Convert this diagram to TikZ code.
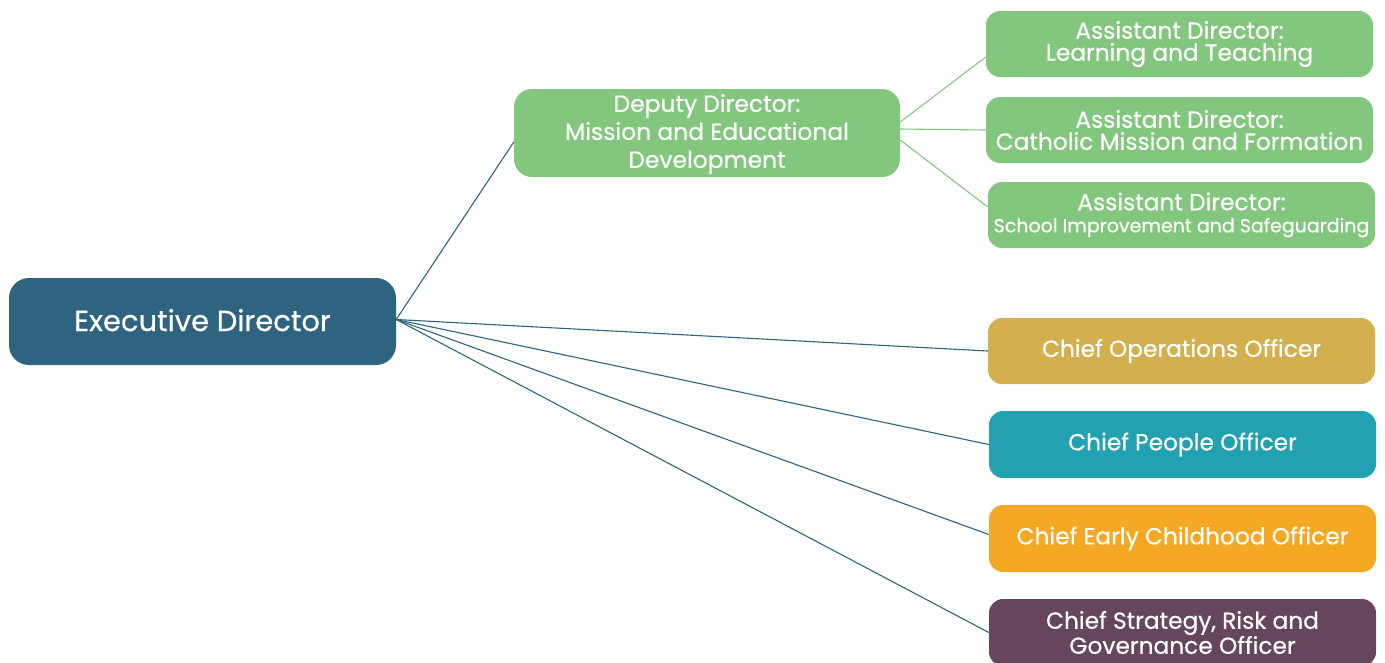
\documentclass[tikz,border=0pt]{standalone}
\usepackage{fontspec}
\setmainfont{Poppins}[BoldFont=Poppins, BoldFeatures={FakeBold=0.5}]
\definecolor{execblue}{HTML}{2E6480}
\definecolor{leafgreen}{HTML}{83C77E}
\definecolor{opsgold}{HTML}{D4AF4E}
\definecolor{peopleteal}{HTML}{22A1B0}
\definecolor{earlyorange}{HTML}{F5A823}
\definecolor{strategyplum}{HTML}{66465C}
\tikzset{
  box/.style={rounded corners=14pt, text=white, align=center, inner sep=0pt,
    minimum width=387pt, minimum height=66pt, font=\fontsize{23.3}{22}\selectfont\bfseries},
  execline/.style={draw=execblue, line width=1.1pt},
  greenline/.style={draw=leafgreen, line width=1.1pt},
}
\begin{document}
\begin{tikzpicture}[x=1pt,y=-1pt]
\useasboundingbox (0,0) rectangle (1385,662);
% top of the chart
\node[box, fill=execblue, minimum height=87pt, rounded corners=20pt,
      font=\fontsize{29}{29}\selectfont\bfseries] (exec) at (202.5,321.5)
  {\raisebox{3pt}{Executive Director}};
% deputy and assistant directors
\node[box, fill=leafgreen, minimum width=386pt, minimum height=88pt, rounded corners=18pt,
      font=\fontsize{23.4}{28}\selectfont\bfseries, text depth=4pt] (dep) at (707,133)
  {Deputy Director:\\Mission and Educational\\Development};
\node[box, fill=leafgreen] (ad1) at (1179.5,44) {Assistant Director:\\Learning and Teaching};
\node[box, fill=leafgreen] (ad2) at (1179.5,130) {Assistant Director:\\Catholic Mission and Formation};
\node[box, fill=leafgreen] (ad3) at (1181.5,215)
  {Assistant Director:\\{\fontsize{19}{21}\selectfont School Improvement and Safeguarding}};
% chief officers
\node[box, fill=opsgold] (coo) at (1181.5,351) {Chief Operations Officer};
\node[box, fill=peopleteal, minimum height=67pt] (cpo) at (1182.5,444.5) {Chief People Officer};
\node[box, fill=earlyorange, minimum height=67pt] (ceco) at (1182.5,538.5) {Chief Early Childhood Officer};
\node[box, fill=strategyplum, minimum height=67pt] (csrg) at (1182.5,632.5)
  {Chief Strategy, Risk and\\Governance Officer};
% connectors from the executive director
\draw[execline] ([yshift=2pt]exec.east) -- ([yshift=-9pt]dep.west);
\draw[execline] ([yshift=2pt]exec.east) -- (coo.west);
\draw[execline] ([yshift=2pt]exec.east) -- (cpo.west);
\draw[execline] ([yshift=2pt]exec.east) -- ([yshift=4pt]ceco.west);
\draw[execline] ([yshift=2pt]exec.east) -- (csrg.west);
% connectors from the deputy director
\draw[greenline] ([yshift=11pt]dep.east) -- ([yshift=-13pt]ad1.west);
\draw[greenline] ([yshift=4pt]dep.east) -- (ad2.west);
\draw[greenline] ([yshift=-7pt]dep.east) -- ([yshift=8pt]ad3.west);
\end{tikzpicture}
\end{document}
